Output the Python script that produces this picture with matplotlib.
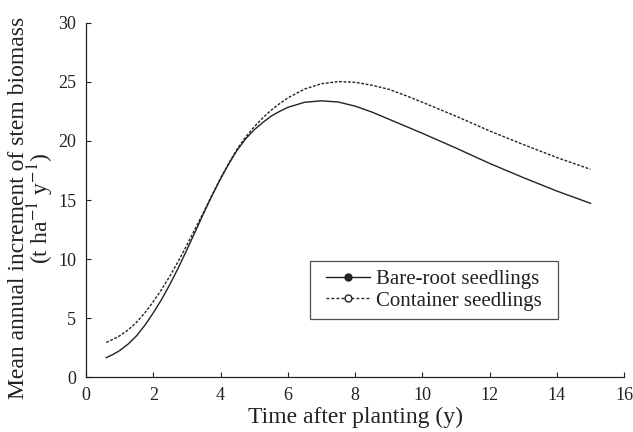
import matplotlib
matplotlib.use("Agg")
import matplotlib.pyplot as plt
from matplotlib.lines import Line2D
from matplotlib.path import Path

plt.rcParams["font.family"] = ["Liberation Serif", "DejaVu Serif"]
plt.rcParams["mathtext.fontset"] = "stix"

# years after planting
years = [0.6, 0.8, 1.0, 1.25, 1.5, 1.75, 2.0, 2.25, 2.5, 2.75, 3.0, 3.25, 3.5, 3.75,
         4.0, 4.25, 4.5, 4.75, 5.0, 5.25, 5.5, 5.75, 6.0, 6.5, 7.0, 7.5, 8.0, 8.5,
         9.0, 9.5, 10.0, 11.0, 12.0, 13.0, 14.0, 15.0]

# mean annual increment of stem biomass (t ha-1 y-1)
bare_root = [1.65, 1.92, 2.25, 2.8, 3.5, 4.4, 5.45, 6.6, 7.9, 9.3, 10.8, 12.35, 13.9, 15.4,
             16.8, 18.1, 19.25, 20.2, 20.95, 21.55, 22.1, 22.5, 22.85, 23.28, 23.4, 23.3, 22.95, 22.45,
             21.85, 21.25, 20.65, 19.4, 18.1, 16.9, 15.76, 14.72]
container = [2.94, 3.2, 3.5, 4.0, 4.65, 5.45, 6.4, 7.45, 8.6, 9.85, 11.2, 12.6, 14.0, 15.45,
             16.85, 18.15, 19.35, 20.35, 21.2, 21.95, 22.6, 23.15, 23.65, 24.4, 24.85, 25.03, 24.97, 24.72,
             24.38, 23.85, 23.28, 22.1, 20.85, 19.7, 18.6, 17.6]

xticks = [0, 2, 4, 6, 8, 10, 12, 14, 16]
yticks = [0, 5, 10, 15, 20, 25, 30]

ink = "#222222"


def wide_box(x0, y0, width, height, mutation_size):
    # square frame with some extra room left and right only
    px = 0.37 * mutation_size
    return Path([(x0 - px, y0), (x0 + width + px, y0), (x0 + width + px, y0 + height),
                 (x0 - px, y0 + height), (x0 - px, y0)], closed=True)


fig = plt.figure(figsize=(6.33, 4.32), dpi=100)
ax = fig.add_axes([0.136, 0.127, 0.850, 0.820])

ax.plot(years, bare_root, color=ink, lw=1.0, solid_joinstyle="round")
ax.plot(years, container, color=ink, lw=1.0, linestyle=(0, (2.0, 1.2)))

ax.set_xlim(0, 16)
ax.set_ylim(0, 30)
ax.set_xticks(xticks)
ax.set_yticks(yticks)
ax.tick_params(direction="in", length=3.5, width=0.8, labelsize=13, colors=ink, pad=7)

for side in ["top", "right"]:
    ax.spines[side].set_visible(False)
for side in ["left", "bottom"]:
    ax.spines[side].set_color(ink)
    ax.spines[side].set_linewidth(0.9)

ax.set_xlabel("Time after planting (y)", fontsize=17, color=ink)
ax.xaxis.set_label_coords(0.5, -0.083)
ax.set_ylabel("Mean annual increment of stem biomass\n(t ha$^{-1}$ y$^{-1}$)",
              fontsize=17, color=ink, linespacing=0.85)
ax.yaxis.set_label_coords(-0.056, 0.478)

handles = [
    Line2D([], [], color=ink, lw=1.0, marker="o", ms=5, mfc=ink, mec=ink),
    Line2D([], [], color=ink, lw=1.0, linestyle=(0, (2.0, 1.6)), marker="o", ms=5,
           mfc="white", mec=ink),
]
leg = ax.legend(handles, ["Bare-root seedlings", "Container seedlings"],
                loc="lower left", bbox_to_anchor=(0.431, 0.164), borderaxespad=0,
                fontsize=15, frameon=True, fancybox=False, handlelength=2.1,
                handletextpad=0.3, labelspacing=0.1, borderpad=0.4, numpoints=1)
leg.get_frame().set_boxstyle(wide_box)
leg.get_frame().set_edgecolor(ink)
leg.get_frame().set_linewidth(0.9)
for t in leg.get_texts():
    t.set_color(ink)

fig.savefig("out.png", dpi=100)
